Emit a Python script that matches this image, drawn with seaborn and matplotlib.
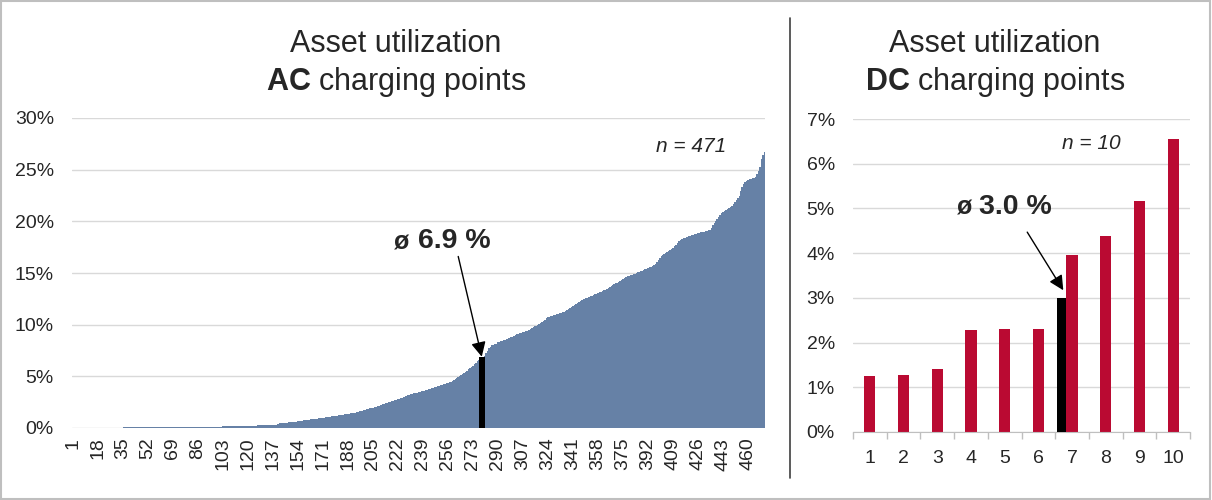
import numpy as np
import pandas as pd
import matplotlib
matplotlib.use("Agg")
import matplotlib.pyplot as plt
import seaborn as sns
from matplotlib.ticker import PercentFormatter, FixedLocator
from matplotlib.patches import Rectangle
from matplotlib.lines import Line2D


# ── Data ──────────────────────────────────────────────────────────────────────

# AC charging points, utilization in %, sorted ascending (one row per 17 points)
ac_util = [
    0, 0, 0, 0, 0, 0, 0, 0, 0, 0, 0, 0, 0, 0, 0, 0, 0,
    0, 0, 0, 0, 0, 0, 0, 0, 0, 0, 0, 0, 0, 0, 0, 0, 0,
    0, 0.12, 0.12, 0.12, 0.12, 0.12, 0.12, 0.12, 0.12, 0.12, 0.12, 0.12, 0.12, 0.12, 0.12, 0.12, 0.12,
    0.12, 0.12, 0.12, 0.12, 0.12, 0.12, 0.12, 0.12, 0.12, 0.12, 0.12, 0.12, 0.12, 0.12, 0.12, 0.12, 0.12,
    0.13, 0.13, 0.13, 0.13, 0.13, 0.13, 0.13, 0.13, 0.13, 0.13, 0.13, 0.13, 0.13, 0.13, 0.13, 0.13, 0.13,
    0.14, 0.14, 0.14, 0.14, 0.14, 0.14, 0.14, 0.14, 0.14, 0.14, 0.14, 0.14, 0.14, 0.14, 0.14, 0.14, 0.14,
    0.15, 0.15, 0.15, 0.15, 0.15, 0.15, 0.15, 0.15, 0.15, 0.15, 0.15, 0.15, 0.15, 0.15, 0.15, 0.15, 0.15,
    0.16, 0.16, 0.16, 0.16, 0.16, 0.16, 0.16, 0.3, 0.3, 0.3, 0.3, 0.3, 0.3, 0.3, 0.3, 0.3, 0.3,
    0.32, 0.33, 0.33, 0.34, 0.35, 0.45, 0.46, 0.47, 0.48, 0.5, 0.52, 0.54, 0.56, 0.58, 0.6, 0.6, 0.62,
    0.66, 0.68, 0.7, 0.72, 0.74, 0.76, 0.78, 0.8, 0.82, 0.84, 0.86, 0.87, 0.88, 0.9, 0.92, 0.94, 0.96,
    0.98, 1.0, 1.02, 1.05, 1.07, 1.1, 1.12, 1.14, 1.16, 1.18, 1.2, 1.22, 1.25, 1.28, 1.3, 1.33, 1.36,
    1.38, 1.4, 1.43, 1.46, 1.48, 1.5, 1.53, 1.56, 1.6, 1.63, 1.65, 1.7, 1.75, 1.8, 1.85, 1.9, 1.94,
    1.98, 2.0, 2.05, 2.1, 2.15, 2.2, 2.25, 2.3, 2.35, 2.4, 2.45, 2.5, 2.55, 2.6, 2.65, 2.7, 2.75,
    2.8, 2.85, 2.9, 2.95, 3.0, 3.05, 3.1, 3.15, 3.2, 3.25, 3.3, 3.35, 3.38, 3.42, 3.46, 3.5, 3.55,
    3.58, 3.6, 3.65, 3.7, 3.75, 3.8, 3.85, 3.9, 3.95, 4.0, 4.05, 4.1, 4.15, 4.2, 4.25, 4.3, 4.35,
    4.4, 4.45, 4.5, 4.55, 4.6, 4.7, 4.8, 4.9, 5.0, 5.1, 5.2, 5.3, 5.4, 5.55, 5.7, 5.8, 5.9,
    6.0, 6.15, 6.3, 6.45, 6.6, 6.75, 6.85, 6.9, 7.0, 7.3, 7.5, 7.7, 7.85, 8.0, 8.05, 8.1, 8.15,
    8.3, 8.35, 8.4, 8.45, 8.5, 8.55, 8.6, 8.7, 8.75, 8.8, 8.85, 8.95, 9.0, 9.05, 9.1, 9.15, 9.2,
    9.25, 9.3, 9.35, 9.4, 9.5, 9.6, 9.7, 9.8, 9.85, 9.9, 10.0, 10.1, 10.2, 10.3, 10.4, 10.5, 10.6,
    10.7, 10.75, 10.8, 10.85, 10.9, 10.95, 11.0, 11.05, 11.1, 11.15, 11.2, 11.25, 11.3, 11.4, 11.5, 11.6, 11.7,
    11.8, 11.9, 12.0, 12.1, 12.2, 12.3, 12.4, 12.45, 12.5, 12.55, 12.6, 12.7, 12.75, 12.8, 12.9, 12.95, 13.0,
    13.1, 13.15, 13.2, 13.3, 13.35, 13.4, 13.5, 13.55, 13.6, 13.7, 13.8, 13.9, 14.0, 14.05, 14.1, 14.2, 14.3,
    14.4, 14.5, 14.6, 14.7, 14.75, 14.8, 14.85, 14.9, 14.95, 15.0, 15.05, 15.1, 15.15, 15.2, 15.3, 15.35, 15.4,
    15.5, 15.55, 15.6, 15.7, 15.8, 15.9, 16.1, 16.3, 16.5, 16.6, 16.7, 16.8, 16.9, 17.0, 17.1, 17.2, 17.3,
    17.45, 17.6, 17.75, 17.9, 18.05, 18.15, 18.25, 18.35, 18.4, 18.45, 18.5, 18.55, 18.6, 18.65, 18.7, 18.75, 18.8,
    18.85, 18.9, 18.95, 19.0, 19.0, 19.05, 19.1, 19.15, 19.2, 19.4, 19.6, 19.8, 20.0, 20.2, 20.4, 20.6, 20.8,
    20.9, 21.0, 21.1, 21.2, 21.3, 21.4, 21.5, 21.7, 21.9, 22.1, 22.3, 22.5, 22.9, 23.3, 23.6, 23.8, 23.9,
    24.0, 24.05, 24.1, 24.15, 24.2, 24.3, 24.6, 24.9, 25.3, 26.0, 26.4, 26.7,
]
ac_points = list(range(1, len(ac_util) + 1))
ac_mean = 6.9
ac_mean_point = 279          # where the mean bar sits in the sorted row
ac_tick_step = 17

# DC charging points
dc_points = list(range(1, 11))
dc_util = [1.25, 1.28, 1.42, 2.28, 2.30, 2.30, 3.96, 4.39, 5.17, 6.55]
dc_mean = 3.0
dc_mean_point = 7

BLUE = "#6681A6"
RED = "#BA0A32"
GRID = "#D9D9D9"

# ── Style ─────────────────────────────────────────────────────────────────────

sns.set_style("white")
plt.rcParams["font.family"] = ["Liberation Sans", "DejaVu Sans"]
plt.rcParams["mathtext.fontset"] = "custom"
plt.rcParams["mathtext.rm"] = "Liberation Sans"
plt.rcParams["mathtext.bf"] = "Liberation Sans:bold"
plt.rcParams["mathtext.it"] = "Liberation Sans:italic"

W, H = 1212, 500
fig = plt.figure(figsize=(W / 100, H / 100), dpi=100)

ax_ac = fig.add_axes([72 / W, 1 - 428 / H, (765 - 72) / W, (428 - 118) / H])
ax_dc = fig.add_axes([853 / W, 1 - 432 / H, (1190 - 853) / W, (432 - 119) / H])

# ── AC panel ──────────────────────────────────────────────────────────────────

ac_df = pd.DataFrame({"point": ac_points, "util": ac_util})
sns.barplot(data=ac_df, x="point", y="util", color=BLUE, saturation=1,
            width=1.0, linewidth=0, antialiased=False, ax=ax_ac)
ax_ac.bar(ac_mean_point - 1, ac_mean, width=4, color="black",
          linewidth=0, zorder=3)

ax_ac.set_xlim(-0.5, len(ac_util) - 0.5)
ax_ac.set_ylim(0, 30)
ax_ac.set_yticks(np.arange(0, 31, 5))
ax_ac.yaxis.set_major_formatter(PercentFormatter(decimals=0))
tick_pos = list(range(0, len(ac_util), ac_tick_step))
ax_ac.set_xticks(tick_pos)
ax_ac.set_xticklabels([str(ac_points[p]) for p in tick_pos], rotation=90)
ax_ac.tick_params(axis="x", length=0, pad=7, labelsize=14)
ax_ac.tick_params(axis="y", length=0, pad=13, labelsize=14)

ax_ac.annotate("", xy=(ac_mean_point - 1, ac_mean), xytext=(262, 16.6),
               arrowprops=dict(arrowstyle="-|>", color="black", lw=1,
                               mutation_scale=22, shrinkA=0, shrinkB=0),
               zorder=5)
ax_ac.text(235, 18.1, "6.9 %", fontsize=20.5, fontweight="bold",
           ha="left", va="center")
ax_ac.text(229, 18.0, "ø", fontsize=18, fontweight="bold",
           ha="right", va="center")
ax_ac.text(420, 27.2, "n = 471", fontsize=15, style="italic",
           ha="center", va="center")

# ── DC panel ──────────────────────────────────────────────────────────────────

bar_w = 0.33
mean_w = 0.27
dc_df = pd.DataFrame({"point": dc_points, "util": dc_util})
sns.barplot(data=dc_df, x="point", y="util", color=RED, saturation=1,
            width=bar_w, linewidth=0, ax=ax_dc)
mean_x = dc_points.index(dc_mean_point) - bar_w / 2 - mean_w / 2
ax_dc.bar(mean_x, dc_mean, width=mean_w, color="black", linewidth=0, zorder=3)

ax_dc.set_xlim(-0.5, len(dc_points) - 0.5)
ax_dc.set_ylim(0, 7)
ax_dc.set_yticks(np.arange(0, 8, 1))
ax_dc.yaxis.set_major_formatter(PercentFormatter(decimals=0))
ax_dc.xaxis.set_minor_locator(FixedLocator(np.arange(-0.5, len(dc_points), 1)))
ax_dc.tick_params(axis="x", which="major", length=0, pad=13, labelsize=14)
ax_dc.tick_params(axis="x", which="minor", length=5, width=1,
                  color="#BFBFBF", direction="out", bottom=True)
ax_dc.tick_params(axis="y", length=0, pad=13, labelsize=14)

ax_dc.annotate("", xy=(5.74, 3.17), xytext=(4.67, 4.47),
               arrowprops=dict(arrowstyle="-|>", color="black", lw=1,
                               mutation_scale=22, shrinkA=0, shrinkB=0),
               zorder=5)
ax_dc.text(3.25, 5.04, "3.0 %", fontsize=20.5, fontweight="bold",
           ha="left", va="center")
ax_dc.text(3.05, 5.02, "ø", fontsize=18, fontweight="bold",
           ha="right", va="center")
ax_dc.text(6.57, 6.46, "n = 10", fontsize=15, style="italic",
           ha="center", va="center")

# ── Shared styling ────────────────────────────────────────────────────────────

for ax in (ax_ac, ax_dc):
    ax.set_xlabel("")
    ax.set_ylabel("")
    ax.set_axisbelow(True)
    ax.yaxis.grid(True, color=GRID, lw=1)
    for side in ("top", "right", "left", "bottom"):
        ax.spines[side].set_visible(False)
    ax.tick_params(colors="#262626")
ax_dc.spines["bottom"].set_visible(True)
ax_dc.spines["bottom"].set_color("#BFBFBF")

# titles
fig.text(396 / W, 1 - 44 / H, "Asset utilization", fontsize=22,
         ha="center", va="center")
fig.text(396 / W, 1 - 82 / H, r"$\mathbf{AC}$ charging points", fontsize=22,
         ha="center", va="center")
fig.text(995 / W, 1 - 44 / H, "Asset utilization", fontsize=22,
         ha="center", va="center")
fig.text(995 / W, 1 - 82 / H, r"$\mathbf{DC}$ charging points", fontsize=22,
         ha="center", va="center")

# separator and frame
fig.add_artist(Line2D([790 / W, 790 / W], [1 - 18 / H, 1 - 478 / H],
                      color="#404040", lw=1.2))
fig.add_artist(Rectangle((0.001, 0.002), 0.997, 0.996, transform=fig.transFigure,
                         fill=False, edgecolor="#BFBFBF", lw=1.5))

fig.savefig("out.png", dpi=100)
